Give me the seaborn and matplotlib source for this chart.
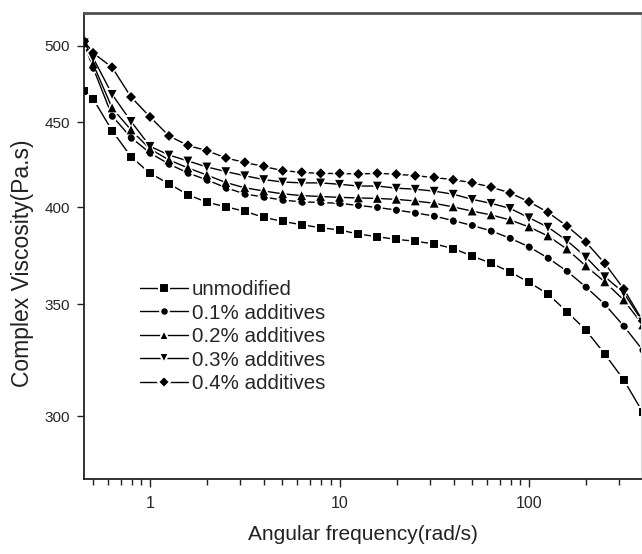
import matplotlib
matplotlib.use('Agg')
import matplotlib.pyplot as plt
import matplotlib.ticker as mticker
import seaborn as sns

# angular frequency (rad/s)
freq = [0.45, 0.501, 0.631, 0.794, 1.0, 1.259, 1.585, 1.995, 2.512, 3.162,
        3.981, 5.012, 6.310, 7.943, 10.0, 12.59, 15.85, 19.95, 25.12, 31.62,
        39.81, 50.12, 63.10, 79.43, 100.0, 125.9, 158.5, 199.5, 251.2, 316.2,
        398.1]

# complex viscosity (Pa.s)
unmodified = [470, 464.6, 444.7, 429.0, 419.3, 413.3, 407.1, 402.9, 400.4, 397.9,
              394.6, 392.4, 390.6, 389.0, 387.8, 385.6, 384.2, 382.8, 381.8, 380.4,
              378.0, 374.1, 370.4, 366.0, 360.8, 355.0, 346.5, 337.8, 326.8, 315.4,
              301.6]
add_01 = [501, 484.9, 453.8, 440.5, 431.2, 424.7, 419.5, 415.5, 411.1, 407.5,
          405.8, 404.1, 403.1, 402.8, 402.3, 401.1, 400.0, 398.6, 397.0, 395.3,
          392.8, 390.2, 387.3, 383.4, 378.9, 373.1, 366.4, 358.5, 350.0, 339.7,
          328.6]
add_02 = [502, 487.5, 458.8, 445.1, 433.6, 427.1, 422.4, 418.3, 414.0, 411.0,
          409.2, 407.6, 406.6, 406.1, 405.6, 405.3, 405.0, 404.5, 403.6, 402.3,
          400.3, 398.0, 395.9, 393.2, 389.4, 384.6, 377.7, 369.0, 361.0, 352.1,
          340.2]
add_03 = [502, 491.6, 467.5, 450.4, 435.2, 430.0, 426.5, 423.0, 420.3, 417.9,
          415.7, 414.3, 413.8, 413.8, 413.0, 412.0, 412.0, 410.8, 410.2, 409.1,
          407.4, 404.5, 402.3, 399.5, 394.4, 389.3, 382.2, 373.6, 363.6, 355.6,
          341.6]
add_04 = [503, 495.0, 485.2, 465.8, 453.2, 441.5, 435.7, 432.6, 428.3, 425.6,
          423.3, 420.8, 419.9, 419.2, 419.2, 418.9, 419.3, 418.8, 417.9, 416.9,
          415.6, 413.9, 411.4, 408.1, 403.2, 397.3, 389.9, 381.4, 370.3, 357.5,
          342.1]

series = [unmodified, add_01, add_02, add_03, add_04]
labels = ['unmodified', '0.1% additives', '0.2% additives', '0.3% additives', '0.4% additives']
markers = ['s', 'o', '^', 'v', 'D']
marker_sizes = [5, 4.7, 6.3, 6.3, 5]

sns.set_style('ticks')
plt.rcParams['font.family'] = ['Liberation Sans', 'DejaVu Sans']

fig = plt.figure(figsize=(6.42, 5.54), dpi=100)
ax = fig.add_axes([84 / 642, 1 - 479 / 554, 557 / 642, 466 / 554])

gap = 1.5  # white halo round the symbols, like "gap to symbol"
for vals, lab, mk, ms in zip(series, labels, markers, marker_sizes):
    sns.lineplot(x=freq, y=vals, ax=ax, color='black', linewidth=1.0,
                 marker=mk, markersize=ms + gap, markerfacecolor='black',
                 markeredgecolor='white', markeredgewidth=gap, label=lab, sort=False)

# symbols again on top so halos never bite into neighbouring symbols
for vals, mk, ms in zip(series, markers, marker_sizes):
    sns.scatterplot(x=freq, y=vals, ax=ax, marker=mk, s=ms ** 2, color='black',
                    edgecolor='none', linewidth=0, legend=False, zorder=3)

ax.set_xscale('log')
ax.set_yscale('log')
ax.set_xlim(0.4484, 390)
ax.set_ylim(275.1, 523)

ax.set_xticks([1, 10, 100], labels=['1', '10', '100'])
ax.xaxis.set_minor_locator(mticker.LogLocator(base=10, subs=[2, 3, 4, 5, 6, 7, 8, 9]))
ax.xaxis.set_minor_formatter(mticker.NullFormatter())
ax.set_yticks([300, 350, 400, 450, 500], labels=['300', '350', '400', '450', '500'])
ax.yaxis.set_minor_locator(mticker.NullLocator())

ax.tick_params(axis='x', which='major', direction='out', length=6, width=1,
               labelsize=11.5, pad=6, top=False, color='#222222')
ax.tick_params(axis='x', which='minor', direction='out', length=4, width=1,
               top=False, color='#222222')
ax.tick_params(axis='y', which='major', direction='out', length=5, width=1,
               labelsize=11, pad=5, right=False, color='#222222')

ax.spines['top'].set_linewidth(2)
ax.spines['top'].set_color('#505050')
for side in ['left', 'bottom']:
    ax.spines[side].set_linewidth(1.3)
    ax.spines[side].set_color('#222222')
ax.spines['right'].set_color('#dddddd')

ax.set_xlabel('Angular frequency(rad/s)', fontsize=15, labelpad=10, color='#222222')
ax.set_ylabel('Complex Viscosity(Pa.s)', fontsize=16.5, color='#222222')
ax.yaxis.set_label_coords(-0.09, 0.4635)

ax.legend(loc='upper left', bbox_to_anchor=(0.1, 0.427), frameon=False, fontsize=14.8,
          handlelength=2.35, handletextpad=0.2, labelspacing=0.22,
          borderaxespad=0, borderpad=0)

fig.savefig('out.png', dpi=100)
